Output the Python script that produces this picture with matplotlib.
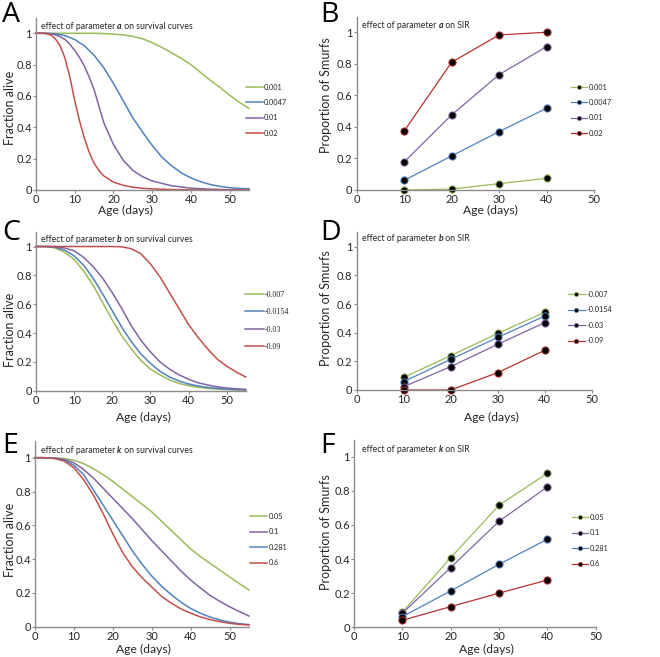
import matplotlib
matplotlib.use('Agg')
import matplotlib.pyplot as plt
from matplotlib.lines import Line2D

########################################################### DATA ###############################################################################

days = [0, 2.5, 5, 7.5, 10, 12.5, 15, 17.5, 20, 22.5, 25, 27.5, 30,
        32.5, 35, 37.5, 40, 42.5, 45, 47.5, 50, 52.5, 55]
# finer reading for the two steep curves of panel A
days_fine = [0, 1.25, 2.5, 3.75, 5, 6.25, 7.5, 8.75, 10, 11.25, 12.5, 13.75, 15,
             16.25, 17.5, 20, 22.5, 25, 27.5, 30, 35, 40, 45, 50, 55]

# panel A - parameter a
a_labels = ['0.001', '0.0047', '0.01', '0.02']
a_green = [1, 1, 1, 1, 1, 1, 1, 0.998, 0.995, 0.99, 0.98, 0.965, 0.94, 0.91, 0.875, 0.84, 0.80, 0.75, 0.70, 0.655, 0.605, 0.56, 0.52]
a_blue = [1, 1, 0.997, 0.985, 0.96, 0.92, 0.86, 0.78, 0.68, 0.57, 0.46, 0.37, 0.285, 0.21, 0.155, 0.11, 0.077, 0.053, 0.035, 0.023, 0.015, 0.01, 0.008]
a_purple = [1, 1, 1, 0.997, 0.99, 0.978, 0.96, 0.93, 0.89, 0.845, 0.79, 0.72, 0.64, 0.535, 0.43, 0.29, 0.19, 0.125, 0.085, 0.058, 0.027, 0.012, 0.005, 0.002, 0.001]
a_red = [1, 1, 0.998, 0.99, 0.965, 0.92, 0.84, 0.72, 0.57, 0.44, 0.33, 0.24, 0.17, 0.125, 0.09, 0.05, 0.03, 0.018, 0.011, 0.007, 0.003, 0.001, 0, 0, 0]

# panel C - parameter b
c_labels = ['-0.007', '-0.0154', '-0.03', '-0.09']
c_green = [1, 1, 0.99, 0.96, 0.91, 0.83, 0.73, 0.61, 0.49, 0.38, 0.29, 0.21, 0.15, 0.11, 0.075, 0.05, 0.035, 0.024, 0.016, 0.011, 0.008, 0.005, 0.004]
c_blue = [1, 1, 0.995, 0.975, 0.935, 0.87, 0.78, 0.67, 0.555, 0.44, 0.34, 0.255, 0.19, 0.135, 0.095, 0.067, 0.047, 0.033, 0.023, 0.016, 0.011, 0.008, 0.006]
c_purple = [1, 1, 1, 0.99, 0.97, 0.925, 0.86, 0.78, 0.68, 0.57, 0.45, 0.35, 0.27, 0.2, 0.15, 0.11, 0.08, 0.055, 0.04, 0.027, 0.019, 0.013, 0.009]
c_red = [1, 1, 1, 1, 1, 1, 1, 1, 1, 0.998, 0.985, 0.95, 0.88, 0.79, 0.68, 0.57, 0.46, 0.37, 0.29, 0.22, 0.17, 0.13, 0.095]

# panel E - parameter k
e_labels = ['0.05', '0.1', '0.281', '0.6']
e_green = [1, 1, 0.999, 0.995, 0.985, 0.965, 0.935, 0.9, 0.86, 0.815, 0.77, 0.725, 0.68, 0.625, 0.57, 0.515, 0.46, 0.415, 0.375, 0.335, 0.295, 0.255, 0.217]
e_purple = [1, 1, 0.998, 0.99, 0.97, 0.93, 0.88, 0.82, 0.76, 0.7, 0.64, 0.575, 0.51, 0.45, 0.39, 0.33, 0.276, 0.23, 0.185, 0.15, 0.118, 0.09, 0.063]
e_blue = [1, 1, 0.997, 0.985, 0.955, 0.9, 0.81, 0.72, 0.63, 0.54, 0.45, 0.37, 0.3, 0.24, 0.19, 0.145, 0.108, 0.08, 0.057, 0.04, 0.027, 0.018, 0.012]
e_red = [1, 1, 0.995, 0.98, 0.94, 0.87, 0.78, 0.67, 0.55, 0.44, 0.355, 0.29, 0.235, 0.18, 0.14, 0.105, 0.08, 0.058, 0.042, 0.03, 0.02, 0.014, 0.01]

# SIR panels
ages = [10, 20, 30, 40]
b_sir = [[0, 0.006, 0.04, 0.074],
         [0.061, 0.216, 0.37, 0.518],
         [0.178, 0.476, 0.731, 0.909],
         [0.374, 0.81, 0.983, 1.0]]
d_sir = [[0.088, 0.24, 0.395, 0.542],
         [0.058, 0.214, 0.367, 0.516],
         [0.023, 0.163, 0.319, 0.47],
         [0, 0, 0.121, 0.277]]
f_sir = [[0.088, 0.408, 0.715, 0.902],
         [0.082, 0.35, 0.621, 0.822],
         [0.0625, 0.213, 0.369, 0.516],
         [0.041, 0.121, 0.2, 0.277]]

########################################################### STYLE ###############################################################################

W, H = 660, 657
GREEN = '#9BBB59'
BLUE = '#4F81BD'
PURPLE = '#8064A2'
RED = '#C0504D'
DRED = '#B8312F'
AXC = '#8C8C8C'
TXT = '#262626'
SANS = ['Lato', 'DejaVu Sans']
SERIF = ['Liberation Serif', 'DejaVu Serif']

plt.rcParams['font.family'] = SANS

fig = plt.figure(figsize=(W / 100, H / 100), dpi=100)
fig.set_facecolor('white')


def px_axes(left, right, top, bottom):
    return fig.add_axes([left / W, 1 - bottom / H, (right - left) / W, (bottom - top) / H])


def fx(x):
    return x / W


def fy(y):
    return 1 - y / H


def style_axes(ax, xmax, xticks):
    ax.set_xlim(0, xmax)
    ax.set_ylim(0, 1.1)
    ax.set_xticks(xticks)
    ax.set_xticklabels([str(t) for t in xticks])
    ax.set_yticks([0, 0.2, 0.4, 0.6, 0.8, 1])
    ax.set_yticklabels(['0', '0.2', '0.4', '0.6', '0.8', '1'])
    for s in ['top', 'right']:
        ax.spines[s].set_visible(False)
    for s in ['left', 'bottom']:
        ax.spines[s].set_color(AXC)
        ax.spines[s].set_linewidth(1.0)
    ax.tick_params(direction='out', length=2, width=0.8, color=AXC,
                   labelsize=8, labelcolor=TXT, pad=1)
    ax.patch.set_alpha(0)


def panel_title(x, y, param, rest):
    t1 = fig.text(fx(x), fy(y), 'effect of parameter ', fontsize=6.2, color=TXT, va='center', ha='left')
    a2 = plt.annotate(param, xy=(1, 0), xycoords=t1, va='bottom', ha='left',
                      fontsize=6.2, color=TXT, fontweight='bold', style='italic')
    plt.annotate(' ' + rest, xy=(1, 0), xycoords=a2, va='bottom', ha='left',
                 fontsize=6.2, color=TXT)


def letter(x, y, s):
    fig.text(fx(x), fy(y), s, fontsize=20.5, color='black', va='baseline', ha='left',
             family=['Open Sans', 'DejaVu Sans'])


def legend(ax, x, y, labels, colors, marker=False, serif=False):
    handles = []
    for c in colors:
        if marker:
            handles.append(Line2D([], [], color=c, lw=0.9, marker='o', markersize=3,
                                  markerfacecolor='black', markeredgecolor=c, markeredgewidth=0.5))
        else:
            handles.append(Line2D([], [], color=c, lw=1.1))
    leg = ax.legend(handles, labels, loc='upper left', bbox_to_anchor=(fx(x), fy(y)),
                    bbox_transform=fig.transFigure, frameon=False, borderpad=0, borderaxespad=0,
                    handlelength=2.3, handletextpad=0.15, labelspacing=1.15,
                    prop={'size': 5.3 if not serif else 5.8, 'family': SERIF if serif else SANS})
    for t in leg.get_texts():
        t.set_color(TXT)


########################################################### SURVIVAL PANELS ###############################################################################

surv = [
    (px_axes(36, 249, 17.6, 190), [(days, a_green), (days, a_blue), (days_fine, a_purple), (days_fine, a_red)],
     [GREEN, BLUE, PURPLE, RED]),
    (px_axes(36, 245.7, 232.1, 390.7), [(days, c_green), (days, c_blue), (days, c_purple), (days, c_red)],
     [GREEN, BLUE, PURPLE, RED]),
    (px_axes(35, 249, 440.8, 626.7), [(days, e_green), (days, e_purple), (days, e_blue), (days, e_red)],
     [GREEN, PURPLE, BLUE, RED]),
]
for ax, series, cols in surv:
    for (xs, vals), c in zip(series, cols):
        ax.plot(xs, vals, color=c, lw=1.1, solid_joinstyle='round', clip_on=False)
    style_axes(ax, 55, [0, 10, 20, 30, 40, 50])

legend(surv[0][0], 246, 83.5, a_labels, [GREEN, BLUE, PURPLE, RED])
legend(surv[1][0], 245, 291, c_labels, [GREEN, BLUE, PURPLE, RED], serif=True)
legend(surv[2][0], 250.5, 513, e_labels, [GREEN, PURPLE, BLUE, RED])

########################################################### SIR PANELS ###############################################################################

sir = [
    (px_axes(356.7, 594, 16.5, 190), b_sir, [GREEN, BLUE, PURPLE, DRED]),
    (px_axes(356.7, 591.7, 232.4, 390), d_sir, [GREEN, BLUE, PURPLE, DRED]),
    (px_axes(354, 595.7, 439.5, 627.3), f_sir, [GREEN, PURPLE, BLUE, DRED]),
]
for ax, series, cols in sir:
    for vals, c in zip(series, cols):
        ax.plot(ages, vals, color=c, lw=0.9, marker='o', markersize=5.2,
                markerfacecolor='black', markeredgecolor=c, markeredgewidth=0.7, clip_on=False)
    style_axes(ax, 50, [0, 10, 20, 30, 40, 50])

legend(sir[0][0], 570.5, 83.5, a_labels, [GREEN, BLUE, PURPLE, DRED], marker=True)
legend(sir[1][0], 568, 291, c_labels, [GREEN, BLUE, PURPLE, DRED], marker=True)
legend(sir[2][0], 571.5, 514, e_labels, [GREEN, PURPLE, BLUE, DRED], marker=True)

########################################################### TEXT ###############################################################################

for xc, yc in [(125, 210), (143, 417), (143.3, 649), (490.7, 210), (491.7, 417), (486.7, 649)]:
    fig.text(fx(xc), fy(yc), 'Age (days)', fontsize=8.7, color=TXT, ha='center', va='center')
for yc in [108, 330, 540]:
    fig.text(fx(10.5), fy(yc), 'Fraction alive', fontsize=9, color=TXT, ha='center', va='center', rotation=90)
for yc in [95, 308, 532]:
    fig.text(fx(326), fy(yc), 'Proportion of Smurfs', fontsize=9, color=TXT, ha='center', va='center', rotation=90)

panel_title(40.7, 26.7, 'a', 'on survival curves')
panel_title(40.7, 240, 'b', 'on survival curves')
panel_title(40.7, 450.7, 'k', 'on survival curves')
panel_title(362, 25, 'a', 'on SIR')
panel_title(362.3, 239, 'b', 'on SIR')
panel_title(362.3, 449.3, 'k', 'on SIR')

letter(2, 22, 'A')
letter(320, 22, 'B')
letter(2, 240, 'C')
letter(320, 240, 'D')
letter(2, 453, 'E')
letter(320, 453, 'F')

plt.savefig('out.png', dpi=100, facecolor=fig.get_facecolor())
